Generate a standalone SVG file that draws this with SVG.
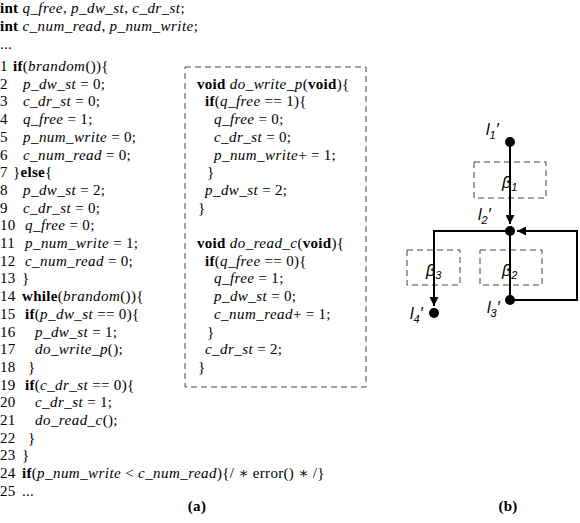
<svg xmlns="http://www.w3.org/2000/svg" width="580" height="523" viewBox="0 0 580 523">
<defs>
<style>
.c{font-family:"Liberation Serif","DejaVu Serif",serif;font-size:15px;fill:#000;letter-spacing:0.3px}
.i{font-style:italic;letter-spacing:0.45px}
.b{font-weight:bold}
.lab{font-family:"Liberation Sans","DejaVu Sans",sans-serif;font-size:16px;font-style:italic;fill:#000}
.sub{font-size:11px}
.dash{fill:none;stroke:#444;stroke-width:1;stroke-dasharray:6 4}
.edge{fill:none;stroke:#000;stroke-width:2}
</style>
<marker id="ah" viewBox="0 0 10 10" refX="10" refY="5" markerWidth="4.5" markerHeight="4.5" orient="auto" markerUnits="strokeWidth">
<path d="M0,0 L10,5 L0,10 Z" fill="#000"/>
</marker>
</defs>
<rect width="580" height="523" fill="#fff"/>

<g id="code-a">
<text class="c" x="0" y="13"><tspan class="b">int</tspan> <tspan class="i">q_free</tspan>, <tspan class="i">p_dw_st</tspan>, <tspan class="i">c_dr_st</tspan>;</text>
<text class="c" x="0" y="31"><tspan class="b">int</tspan> <tspan class="i">c_num_read</tspan>, <tspan class="i">p_num_write</tspan>;</text>
<text class="c" x="0" y="49">...</text>
<text class="c" x="0" y="71">1 <tspan class="b" x="13">if</tspan>(<tspan class="i">brandom</tspan>()){</text>
<text class="c" x="0" y="88.7">2<tspan class="i" x="23">p_dw_st</tspan> = 0;</text>
<text class="c" x="0" y="106.4">3<tspan class="i" x="23">c_dr_st</tspan> = 0;</text>
<text class="c" x="0" y="124.1">4<tspan class="i" x="23">q_free</tspan> = 1;</text>
<text class="c" x="0" y="141.8">5<tspan class="i" x="23">p_num_write</tspan> = 0;</text>
<text class="c" x="0" y="159.5">6<tspan class="i" x="23">c_num_read</tspan> = 0;</text>
<text class="c" x="0" y="177.2">7<tspan x="13">}</tspan><tspan class="b">else</tspan>{</text>
<text class="c" x="0" y="194.9">8<tspan class="i" x="23">p_dw_st</tspan> = 2;</text>
<text class="c" x="0" y="212.6">9<tspan class="i" x="23">c_dr_st</tspan> = 0;</text>
<text class="c" x="0" y="230.3">10<tspan class="i" x="25">q_free</tspan> = 0;</text>
<text class="c" x="0" y="248">11<tspan class="i" x="25">p_num_write</tspan> = 1;</text>
<text class="c" x="0" y="265.7">12<tspan class="i" x="25">c_num_read</tspan> = 0;</text>
<text class="c" x="0" y="283.4">13<tspan x="22">}</tspan></text>
<text class="c" x="0" y="301.1">14<tspan class="b" x="22">while</tspan>(<tspan class="i">brandom</tspan>()){</text>
<text class="c" x="0" y="318.8">15<tspan class="b" x="25">if</tspan>(<tspan class="i">p_dw_st</tspan> == 0){</text>
<text class="c" x="0" y="336.5">16<tspan class="i" x="35">p_dw_st</tspan> = 1;</text>
<text class="c" x="0" y="354.2">17<tspan class="i" x="35">do_write_p</tspan>();</text>
<text class="c" x="0" y="371.9">18<tspan x="28">}</tspan></text>
<text class="c" x="0" y="389.6">19<tspan class="b" x="25">if</tspan>(<tspan class="i">c_dr_st</tspan> == 0){</text>
<text class="c" x="0" y="407.3">20<tspan class="i" x="35">c_dr_st</tspan> = 1;</text>
<text class="c" x="0" y="425">21<tspan class="i" x="35">do_read_c</tspan>();</text>
<text class="c" x="0" y="442.7">22<tspan x="28">}</tspan></text>
<text class="c" x="0" y="460.4">23<tspan x="22">}</tspan></text>
<text class="c" x="0" y="478.1">24<tspan class="b" x="22">if</tspan>(<tspan class="i">p_num_write</tspan> &lt; <tspan class="i">c_num_read</tspan>){/ ∗ error() ∗ /}</text>
<text class="c" x="0" y="495.8">25<tspan x="22">...</tspan></text>
</g>

<g id="funcs">
<rect class="dash" x="185" y="67" width="181" height="320"/>
<text class="c" x="197" y="88.7"><tspan class="b">void</tspan> <tspan class="i">do_write_p</tspan>(<tspan class="b">void</tspan>){</text>
<text class="c" x="205" y="106.4"><tspan class="b">if</tspan>(<tspan class="i">q_free</tspan> == 1){</text>
<text class="c" x="214" y="124.1"><tspan class="i">q_free</tspan> = 0;</text>
<text class="c" x="214" y="141.8"><tspan class="i">c_dr_st</tspan> = 0;</text>
<text class="c" x="214" y="159.5"><tspan class="i">p_num_write</tspan>+ = 1;</text>
<text class="c" x="207" y="177.2">}</text>
<text class="c" x="205" y="194.9"><tspan class="i">p_dw_st</tspan> = 2;</text>
<text class="c" x="198" y="212.6">}</text>
<text class="c" x="197" y="248"><tspan class="b">void</tspan> <tspan class="i">do_read_c</tspan>(<tspan class="b">void</tspan>){</text>
<text class="c" x="205" y="265.7"><tspan class="b">if</tspan>(<tspan class="i">q_free</tspan> == 0){</text>
<text class="c" x="214" y="283.4"><tspan class="i">q_free</tspan> = 1;</text>
<text class="c" x="214" y="301.1"><tspan class="i">p_dw_st</tspan> = 0;</text>
<text class="c" x="214" y="318.8"><tspan class="i">c_num_read</tspan>+ = 1;</text>
<text class="c" x="207" y="336.5">}</text>
<text class="c" x="205" y="354.2"><tspan class="i">c_dr_st</tspan> = 2;</text>
<text class="c" x="198" y="371.9">}</text>
</g>

<text class="c b" x="197" y="511" text-anchor="middle">(a)</text>
<text class="c b" x="508" y="511" text-anchor="middle">(b)</text>

<g id="boxes">
<rect class="dash" x="474" y="162" width="72" height="36"/>
<rect class="dash" x="407" y="250" width="53" height="35"/>
<rect class="dash" x="480" y="250" width="62" height="35"/>
</g>

<g id="connectors">
<line class="edge" x1="510" y1="142" x2="510" y2="224" marker-end="url(#ah)"/>
<line class="edge" x1="510" y1="231" x2="510" y2="300"/>
<polyline class="edge" points="510,300 577,300 577,231 517,231" marker-end="url(#ah)"/>
<polyline class="edge" points="510,231 434,231 434,306" marker-end="url(#ah)"/>
</g>

<g id="l1"><circle cx="510" cy="142" r="5"/><text class="lab" x="486" y="135">l<tspan class="sub" dy="4">1</tspan><tspan dy="-4">′</tspan></text></g>
<g id="l2"><circle cx="510" cy="231" r="5"/><text class="lab" x="478" y="220">l<tspan class="sub" dy="4">2</tspan><tspan dy="-4">′</tspan></text></g>
<g id="l3"><circle cx="510" cy="300" r="5"/><text class="lab" x="487" y="313">l<tspan class="sub" dy="4">3</tspan><tspan dy="-4">′</tspan></text></g>
<g id="l4"><circle cx="434" cy="313" r="5"/><text class="lab" x="410" y="319">l<tspan class="sub" dy="4">4</tspan><tspan dy="-4">′</tspan></text></g>
<g id="b1"><text class="lab" x="502" y="188">β<tspan class="sub" dy="3">1</tspan></text></g>
<g id="b3"><text class="lab" x="426" y="276">β<tspan class="sub" dy="3">3</tspan></text></g>
<g id="b2"><text class="lab" x="502" y="276">β<tspan class="sub" dy="3">2</tspan></text></g>
</svg>
